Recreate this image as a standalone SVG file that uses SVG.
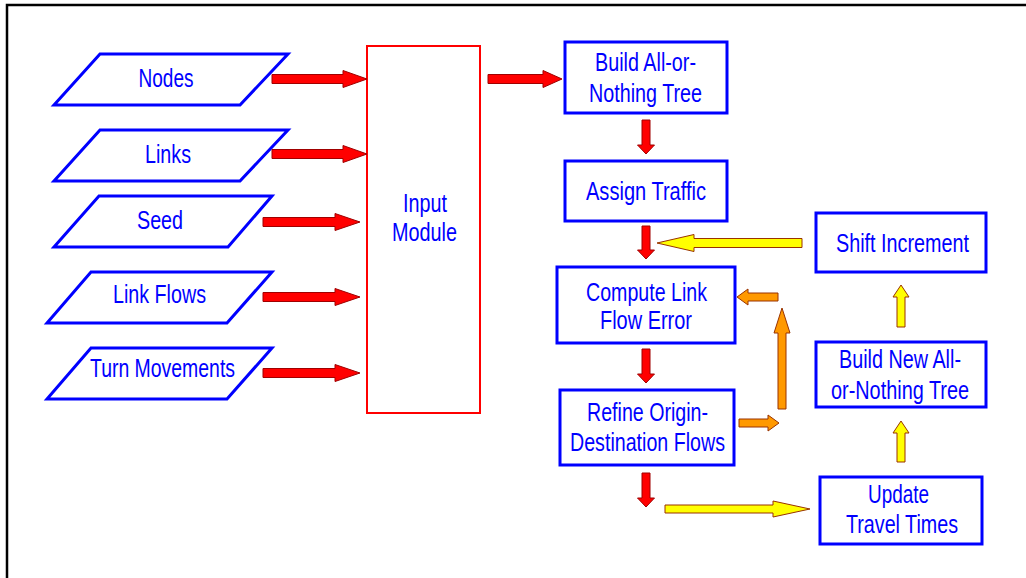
<svg xmlns="http://www.w3.org/2000/svg" width="1026" height="578" viewBox="0 0 1026 578">
<style>
.bg{fill:#fff}
.frame{fill:none;stroke:#000;stroke-width:2.5}
.io{fill:#fff;stroke:#0000ff;stroke-width:3;stroke-linejoin:miter}
.box{fill:#fff;stroke:#0000ff;stroke-width:3}
.mod{fill:#fff;stroke:#ff0000;stroke-width:2}
text{font-family:"Liberation Sans",Arial,sans-serif;font-size:25px;fill:#0000ff;text-anchor:middle}
.red{fill:#ff0000;stroke:#a00000;stroke-width:1}
.yel{fill:#ffff00;stroke:#993300;stroke-width:1}
.org{fill:#ff9900;stroke:#993300;stroke-width:1}
</style>
<rect class="bg" x="0" y="0" width="1026" height="578"/>
<rect class="frame" x="7" y="5" width="1030" height="590"/>

<g id="node-nodes"><polygon class="io" points="100,54 288,54 240,105 54,105"/><text x="166" y="87" textLength="55" lengthAdjust="spacingAndGlyphs">Nodes</text></g>
<g id="node-links"><polygon class="io" points="100,130 288,130 240,181 54,181"/><text x="168" y="163" textLength="46" lengthAdjust="spacingAndGlyphs">Links</text></g>
<g id="node-seed"><polygon class="io" points="99,196 272,196 228,247 54,247"/><text x="160" y="229" textLength="46" lengthAdjust="spacingAndGlyphs">Seed</text></g>
<g id="node-linkflows"><polygon class="io" points="91,272 272,272 227,323 47,323"/><text x="159.5" y="303" textLength="93" lengthAdjust="spacingAndGlyphs">Link Flows</text></g>
<g id="node-turnmovements"><polygon class="io" points="91,348 272,348 227,399 47,399"/><text x="162.5" y="377" textLength="145" lengthAdjust="spacingAndGlyphs">Turn Movements</text></g>

<g id="node-input"><rect class="mod" x="367" y="46" width="113" height="367"/><text x="425" y="212" textLength="44" lengthAdjust="spacingAndGlyphs">Input</text><text x="424.5" y="241" textLength="65" lengthAdjust="spacingAndGlyphs">Module</text></g>

<g id="node-build"><rect class="box" x="565" y="42" width="162" height="71"/><text x="645.5" y="71" textLength="101" lengthAdjust="spacingAndGlyphs">Build All-or-</text><text x="645.5" y="102" textLength="113" lengthAdjust="spacingAndGlyphs">Nothing Tree</text></g>
<g id="node-assign"><rect class="box" x="565" y="161" width="162" height="60"/><text x="646" y="200" textLength="120" lengthAdjust="spacingAndGlyphs">Assign Traffic</text></g>
<g id="node-compute"><rect class="box" x="557" y="267" width="178" height="76"/><text x="646.5" y="301" textLength="121" lengthAdjust="spacingAndGlyphs">Compute Link</text><text x="646" y="329" textLength="92" lengthAdjust="spacingAndGlyphs">Flow Error</text></g>
<g id="node-refine"><rect class="box" x="560" y="390" width="174" height="75"/><text x="647.5" y="421" textLength="121" lengthAdjust="spacingAndGlyphs">Refine Origin-</text><text x="647.5" y="451" textLength="155" lengthAdjust="spacingAndGlyphs">Destination Flows</text></g>
<g id="node-shift"><rect class="box" x="816" y="213" width="170" height="59"/><text x="902.5" y="252" textLength="133" lengthAdjust="spacingAndGlyphs">Shift Increment</text></g>
<g id="node-buildnew"><rect class="box" x="816" y="342" width="170" height="65"/><text x="900" y="368" textLength="122" lengthAdjust="spacingAndGlyphs">Build New All-</text><text x="900" y="399" textLength="138" lengthAdjust="spacingAndGlyphs">or-Nothing Tree</text></g>
<g id="node-update"><rect class="box" x="820" y="477" width="162" height="67"/><text x="898.5" y="503" textLength="61" lengthAdjust="spacingAndGlyphs">Update</text><text x="902" y="533" textLength="112" lengthAdjust="spacingAndGlyphs">Travel Times</text></g>

<g id="connectors">
<polygon class="red" points="272,74.5 343,74.5 343,70.5 367,79 343,87.5 343,83.5 272,83.5"/>
<polygon class="red" points="272,149.5 343,149.5 343,145.5 367,154 343,162.5 343,158.5 272,158.5"/>
<polygon class="red" points="263,217.5 335,217.5 335,213.5 360,222 335,230.5 335,226.5 263,226.5"/>
<polygon class="red" points="263,292.5 335,292.5 335,288.5 360,297 335,305.5 335,301.5 263,301.5"/>
<polygon class="red" points="263,368.5 335,368.5 335,364.5 360,373 335,381.5 335,377.5 263,377.5"/>
<polygon class="red" points="488,74.5 543,74.5 543,70.5 562,79 543,87.5 543,83.5 488,83.5"/>
<polygon class="red" points="642,120 650,120 650,145 654.5,145 646,154 637.5,145 642,145"/>
<polygon class="red" points="642,226 650,226 650,250 654.5,250 646,259 637.5,250 642,250"/>
<polygon class="red" points="642,349 650,349 650,374 654.5,374 646,383 637.5,374 642,374"/>
<polygon class="red" points="642,473 650,473 650,498 654.5,498 646,507 637.5,498 642,498"/>
<polygon class="yel" points="802,238.5 694,238.5 694,234.5 657,243 694,251.5 694,247.5 802,247.5"/>
<polygon class="org" points="778,293 748,293 748,289 737,297 748,305 748,301 778,301"/>
<polygon class="org" points="778,409 778,333 774,333 782,308 790,333 786,333 786,409"/>
<polygon class="org" points="739,419 768,419 768,415 779,423 768,431 768,427 739,427"/>
<polygon class="yel" points="897,327 897,297 893,297 901,285 909,297 905,297 905,327"/>
<polygon class="yel" points="897,462 897,433 893,433 901,421 909,433 905,433 905,462"/>
<polygon class="yel" points="665,505 773,505 773,501 810,509 773,517 773,513 665,513"/>
</g>
</svg>
